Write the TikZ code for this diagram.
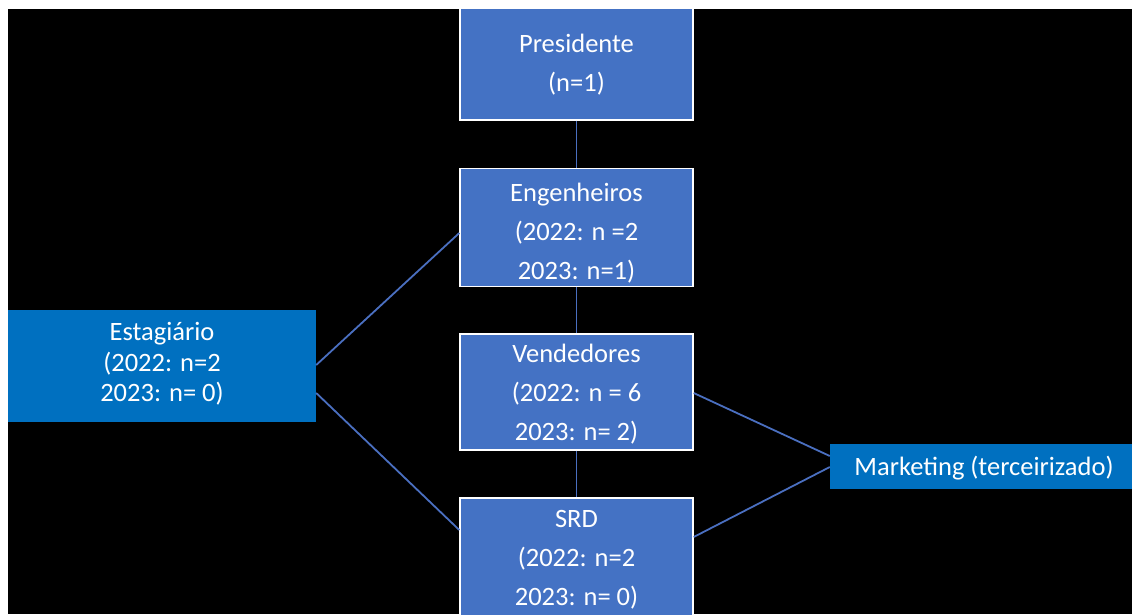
\documentclass[tikz,border=0pt]{standalone}
\usepackage{fontspec}
\setmainfont{Carlito}
\definecolor{boxblue}{HTML}{4472C4}
\definecolor{sideblue}{HTML}{0070C0}
\definecolor{linkblue}{HTML}{4A6FC0}
\begin{document}
\begin{tikzpicture}[x=1pt,y=-1pt,
  rolebox/.style={draw=white,line width=1.4pt,fill=boxblue,inner sep=0pt,minimum width=233pt},
  roletext/.style={text=white,inner sep=0pt,align=center,font=\fontsize{26.5}{39}\selectfont},
  sidebox/.style={fill=sideblue,inner sep=0pt},
  sidetext/.style={text=white,inner sep=0pt,align=center,font=\fontsize{26.5}{30.5}\selectfont},
  link/.style={draw=linkblue,line width=1.8pt}]
\useasboundingbox (0,0) rectangle (1132,614);
\fill[white] (0,0) rectangle (1132,614);
\fill[black] (8,9) rectangle (1132,614);
\begin{scope}
\clip (8,9) rectangle (1132,614);
% side boxes
\node[sidebox,minimum width=308pt,minimum height=112pt] (est) at (162,366) {};
\node[sidetext] (estt) at ([yshift=2pt]est.center) {Estagiário\\(2022: n=2\\2023: n= 0)};
\node[sidebox,minimum width=304pt,minimum height=45pt] (mkt) at (982,466.5) {};
\node[sidetext] (mktt) at ([xshift=2pt,yshift=-1.5pt]mkt.center) {Marketing (terceirizado)};
% central boxes
\node[rolebox,minimum height=116pt] (pres) at (576.5,62) {};
\node[roletext] (prest) at ([yshift=-3pt]pres.center) {Presidente\\(n=1)};
\node[rolebox,minimum height=118pt] (eng) at (576.5,227.5) {};
\node[roletext] (engt) at ([yshift=-5.5pt]eng.center) {Engenheiros\\(2022: n =2\\2023: n=1)};
\node[rolebox,minimum height=116pt] (ven) at (576.5,392) {};
\node[roletext] (vent) at ([yshift=-2pt]ven.center) {Vendedores\\(2022: n = 6\\2023: n= 2)};
\node[rolebox,minimum height=122pt] (srd) at (576.5,559) {};
\node[roletext] (srdt) at ([yshift=-0.5pt]srd.center) {SRD\\(2022: n=2\\2023: n= 0)};
% connectors
\draw[link] (pres.south) -- (eng.north);
\draw[link] (eng.south) -- (ven.north);
\draw[link] (ven.south) -- (srd.north);
\draw[link] ([yshift=1pt]est.east) -- ([yshift=-5.5pt]eng.west);
\draw[link] ([yshift=-27pt]est.east) -- ([yshift=29pt]srd.west);
\draw[link] ([yshift=-1pt]ven.east) -- ([yshift=10.5pt]mkt.west);
\draw[link] ([yshift=22pt]srd.east) -- ([yshift=-0.5pt]mkt.west);
\end{scope}
\end{tikzpicture}
\end{document}
